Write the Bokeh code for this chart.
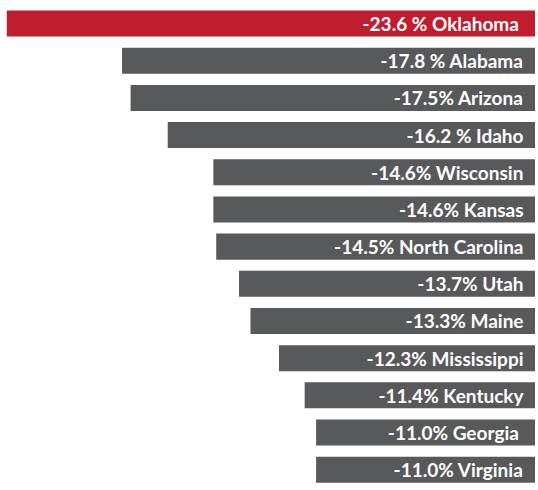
from bokeh.plotting import figure
from bokeh.models import ColumnDataSource, Range1d
from bokeh.core.properties import value
from bokeh.embed import file_html
from bokeh.resources import INLINE

states = ["Oklahoma", "Alabama", "Arizona", "Idaho", "Wisconsin", "Kansas",
          "North Carolina", "Utah", "Maine", "Mississippi", "Kentucky",
          "Georgia", "Virginia"]
changes = [-23.6, -17.8, -17.5, -16.2, -14.6, -14.6, -14.5, -13.7, -13.3,
           -12.3, -11.4, -11.0, -11.0]
labels = ["-23.6 %  Oklahoma", "-17.8 % Alabama", "-17.5% Arizona",
          "-16.2 % Idaho", "-14.6% Wisconsin", "-14.6% Kansas",
          "-14.5% North Carolina", "-13.7% Utah", "-13.3% Maine",
          "-12.3% Mississippi", "-11.4% Kentucky", "-11.0%  Georgia",
          "-11.0% Virginia"]

RED = "#BE1E2D"
GRAY = "#58595B"
colors = [RED] + [GRAY] * (len(states) - 1)
idx = list(range(len(states)))

x_start, x_end = -21.85, -3.31
source = ColumnDataSource(dict(
    y=idx, left=changes, right=[0] * len(states), color=colors,
    label=labels, tx=[x_end] * len(states)))

p = figure(width=535, height=490, output_backend="svg", toolbar_location=None,
           x_range=Range1d(x_start, x_end), y_range=Range1d(12.56, -0.62),
           min_border=0, min_border_left=6)
p.axis.visible = False
p.grid.visible = False
p.outline_line_color = None
p.background_fill_color = "white"
p.border_fill_color = "white"

p.hbar(y="y", left="left", right="right", height=0.70, color="color",
       line_color=None, source=source)
p.text(x="tx", y="y", text="label", source=source, x_offset=-12,
       text_align="right", text_baseline="middle", text_color="white",
       text_font=value("Lato"), text_font_style="bold", text_font_size="19px")

open("out.html", "w").write(file_html(p, INLINE))
